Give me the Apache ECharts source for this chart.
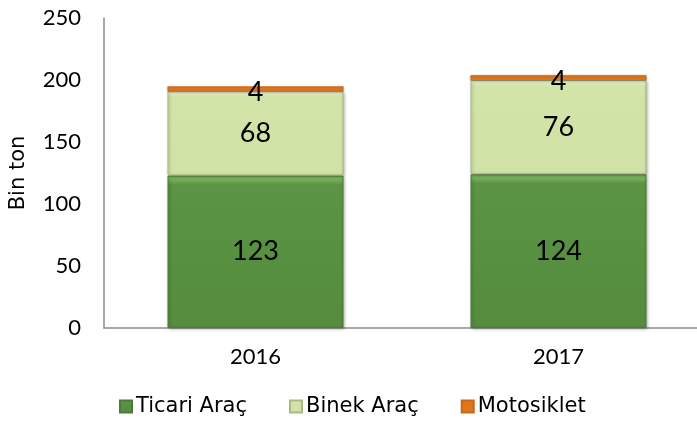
<!DOCTYPE html>
<html><head><meta charset="utf-8">
<script src="https://cdn.jsdelivr.net/npm/echarts@6/dist/echarts.min.js"></script>
<style>html,body{margin:0;padding:0;background:#fff}#c{width:697px;height:425px}</style>
</head><body><div id="c"></div>
<script>
const categories = ['2016', '2017'];
const ticari = [123, 124];
const binek = [68, 76];
const motosiklet = [4, 4];
const seriesNames = ['Ticari Araç', 'Binek Araç', 'Motosiklet'];
const yTicks = [0, 50, 100, 150, 200, 250];

const FONT = 'Lato';
const WIDE = 'DejaVu Sans';
const chart = echarts.init(document.getElementById('c'));
function grad(top, mid, bottom) {
  return new echarts.graphic.LinearGradient(0, 0, 0, 1, [
    {offset: 0, color: top}, {offset: 0.06, color: mid}, {offset: 1, color: bottom}
  ]);
}
const common = {
  type: 'bar', stack: 'a', barWidth: 176,
  label: {show: true, position: 'inside', color: '#000', fontFamily: FONT, fontSize: 27}
};
chart.setOption({
  animation: false,
  grid: {left: 104, width: 606, top: 18, bottom: 97, containLabel: false, outerBoundsMode: 'none'},
  legend: {
    bottom: 3, left: 114, itemWidth: 12, itemHeight: 12, itemGap: 42,
    icon: 'rect',
    textStyle: {fontFamily: WIDE, fontSize: 21, color: '#000', padding: [0, 0, 0, -1]},
    data: seriesNames
  },
  xAxis: {
    type: 'category', data: categories,
    axisLine: {lineStyle: {color: '#8c8c8c', width: 1.5}},
    axisTick: {show: false},
    axisLabel: {fontFamily: FONT, fontSize: 22, color: '#000', margin: 18}
  },
  yAxis: {
    type: 'value', min: yTicks[0], max: yTicks[yTicks.length - 1], interval: 50,
    name: 'Bin ton', nameLocation: 'middle', nameGap: 75, nameRotate: 90,
    nameTextStyle: {fontFamily: WIDE, fontSize: 21, color: '#000'},
    axisLine: {show: true, lineStyle: {color: '#8c8c8c', width: 1.5}},
    axisTick: {show: false},
    splitLine: {show: false},
    axisLabel: {fontFamily: FONT, fontSize: 22, color: '#000', margin: 23}
  },
  series: [
    Object.assign({}, common, {
      name: seriesNames[0], data: ticari,
      itemStyle: {color: grad('#8dc96f', '#5a9444', '#558c3e'), borderColor: '#4d7a3a', borderWidth: 1,
        shadowColor: 'rgba(0,0,0,0.3)', shadowBlur: 3, shadowOffsetX: 1, shadowOffsetY: 1}
    }),
    Object.assign({}, common, {
      name: seriesNames[1], data: binek,
      itemStyle: {color: grad('#fbffe8', '#d3e4a9', '#d0e2a5'), borderColor: '#a9b985', borderWidth: 1,
        shadowColor: 'rgba(0,0,0,0.3)', shadowBlur: 3, shadowOffsetX: 1, shadowOffsetY: 1}
    }),
    Object.assign({}, common, {
      name: seriesNames[2], data: motosiklet,
      label: {show: true, position: 'inside', offset: [0, 4], color: '#000', fontFamily: FONT, fontSize: 27},
      itemStyle: {color: '#e0761c', borderColor: '#c8681a', borderWidth: 0.5,
        shadowColor: 'rgba(0,0,0,0.3)', shadowBlur: 2, shadowOffsetY: 1}
    })
  ]
});
</script></body></html>
